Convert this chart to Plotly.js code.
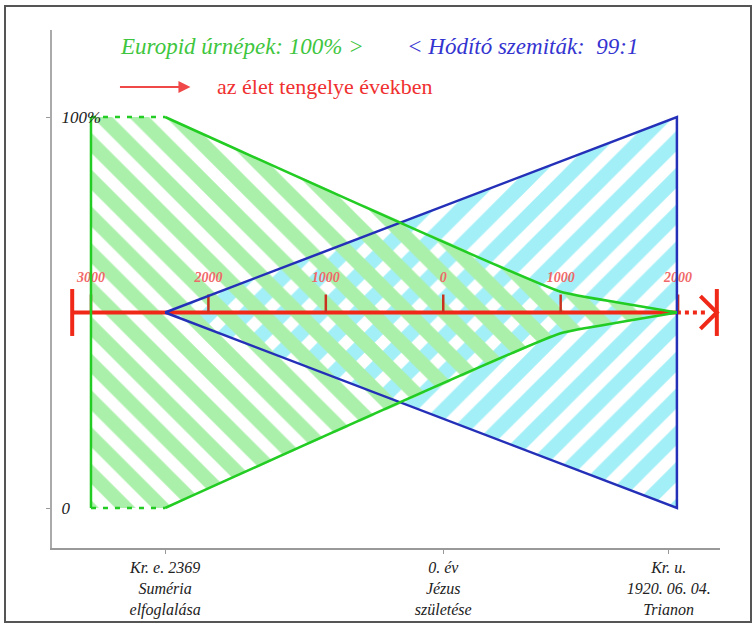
<!DOCTYPE html>
<html>
<head>
<meta charset="utf-8">
<script src="https://cdn.plot.ly/plotly-3.0.1.min.js"></script>
<style>
  html, body { margin: 0; padding: 0; background: #fff; }
  #wrap { position: relative; width: 756px; height: 624px; }
  #chart { width: 756px; height: 624px; }
  #frame { position: absolute; left: 4px; top: 5px; width: 744px; height: 614px;
           border: 2px solid #555; pointer-events: none; }
</style>
</head>
<body>
<div id="wrap"><div id="chart"></div><div id="frame"></div></div>
<script>
// ---- data (years on x, percent on y) ----
const bottomTickYears = [-2369, 0, 1920];
const bottomTickText = ['Kr. e. 2369<br>Suméria<br>elfoglalása', '0. év<br>Jézus<br>születése', 'Kr. u.<br>1920. 06. 04.<br>Trianon'];
const yTickVals = [0, 100];
const yTickText = ['0', '100%'];

// Europid (green) region
const greenStartYear = -3000;
const greenUpperX = [-2369, 1000, 1500, 1990];
const greenUpperY = [100, 55.3, 52.5, 50];
const greenLowerX = [-2369, 1000, 1500, 1990];
const greenLowerY = [0, 44.7, 47.5, 50];

// Semite (blue) region
const blueX = [-2369, 1990, 1990, -2369];
const blueY = [50, 100, 0, 50];

// time axis ("az élet tengelye")
const axisLevel = 50;
const timeAxisStart = -3160;
const timeAxisSolidEnd = 1990;
const timeAxisDottedEnd = 2230;
const timeAxisArrowTip = 2330;
const timeAxisArrowBack = 2190;
const redTickYears = [-3000, -2000, -1000, 0, 1000, 2000];
const redTickLabels = ['3000', '2000', '1000', '0', '1000', '2000'];

// ---- build traces ----
const serif = '"Liberation Serif", serif';
const green = '#22cc22', blue = '#2430b8', red = '#f02818';

const gX = [greenStartYear, greenStartYear].concat(greenUpperX, greenLowerX.slice().reverse(), [greenStartYear]);
const gY = [0, 100].concat(greenUpperY, greenLowerY.slice().reverse(), [0]);

const traces = [];
// blue fill
traces.push({x: blueX, y: blueY, mode: 'lines', fill: 'toself', line: {width: 0, color: 'rgba(0,0,0,0)'},
  fillcolor: 'rgba(0,0,0,0)',
  fillpattern: {shape: '/', fgcolor: '#a2eff7', bgcolor: 'rgba(255,255,255,0)', size: 26, solidity: 0.55, fgopacity: 1},
  hoverinfo: 'skip'});
// green fill
traces.push({x: gX, y: gY, mode: 'lines', fill: 'toself', line: {width: 0, color: 'rgba(0,0,0,0)'},
  fillcolor: 'rgba(0,0,0,0)',
  fillpattern: {shape: '\\', fgcolor: '#aaf0aa', bgcolor: 'rgba(255,255,255,0)', size: 26, solidity: 0.55, fgopacity: 1},
  hoverinfo: 'skip'});

// red time axis: solid, dotted, end bars, arrowhead
traces.push({x: [timeAxisStart, timeAxisSolidEnd], y: [axisLevel, axisLevel], mode: 'lines',
  line: {color: red, width: 4}, hoverinfo: 'skip'});
traces.push({x: [timeAxisSolidEnd, timeAxisDottedEnd], y: [axisLevel, axisLevel], mode: 'lines',
  line: {color: red, width: 4, dash: 'dot'}, hoverinfo: 'skip'});
traces.push({x: [timeAxisStart, timeAxisStart, null, timeAxisArrowTip, timeAxisArrowTip, null,
                 timeAxisArrowBack, timeAxisArrowTip, timeAxisArrowBack],
  y: [axisLevel - 6, axisLevel + 6, null, axisLevel - 6, axisLevel + 6, null,
      axisLevel + 4.2, axisLevel, axisLevel - 4.2],
  mode: 'lines', line: {color: red, width: 4}, hoverinfo: 'skip'});
// red ticks
const tX = [], tY = [];
redTickYears.forEach(v => { tX.push(v, v, null); tY.push(axisLevel, axisLevel + 4.6, null); });
traces.push({x: tX, y: tY, mode: 'lines', line: {color: '#c8321e', width: 2.5}, hoverinfo: 'skip'});
traces.push({x: redTickYears, y: redTickYears.map(() => axisLevel + 8.8), mode: 'text', text: redTickLabels,
  textfont: {family: serif, size: 14, color: '#f06868', style: 'italic', weight: 'bold'}, hoverinfo: 'skip'});

// blue outline
traces.push({x: blueX, y: blueY, mode: 'lines', line: {color: blue, width: 2.5}, hoverinfo: 'skip'});
// green outline (solid parts)
traces.push({x: [greenStartYear, greenStartYear, null].concat([greenUpperX[0]], greenUpperX.slice(1), [null], greenLowerX),
  y: [0, 100, null].concat([greenUpperY[0]], greenUpperY.slice(1), [null], greenLowerY),
  mode: 'lines', line: {color: green, width: 2.5, shape: 'spline', smoothing: 0.4}, hoverinfo: 'skip'});
// green outline (dashed top/bottom)
traces.push({x: [greenStartYear, greenUpperX[0], null, greenStartYear, greenLowerX[0]],
  y: [100, greenUpperY[0], null, 0, greenLowerY[0]],
  mode: 'lines', line: {color: green, width: 2.5, dash: '5px,7px'}, hoverinfo: 'skip'});

const layout = {
  width: 756, height: 624,
  margin: {l: 52, r: 36, t: 30, b: 76},
  paper_bgcolor: '#fff', plot_bgcolor: '#fff',
  showlegend: false,
  xaxis: {range: [-3332, 2357], showgrid: false, zeroline: false, showline: true, linecolor: '#999', linewidth: 2,
    tickvals: bottomTickYears, ticktext: bottomTickText, ticks: 'outside', ticklen: 4, tickcolor: '#999',
    tickfont: {family: serif, size: 16, color: '#222', style: 'italic'}},
  yaxis: {range: [-10.23, 122.25], showgrid: false, zeroline: false, showline: true, linecolor: '#aaa', linewidth: 2.5,
    tickvals: yTickVals, ticktext: yTickText, ticks: 'outside', ticklen: 4, tickcolor: '#999',
    ticklabelposition: 'inside', ticklabelstandoff: 10,
    tickfont: {family: serif, size: 17, color: '#222', style: 'italic'}},
  annotations: [
    {x: -2766, y: 118, xref: 'x', yref: 'y', xanchor: 'left', yanchor: 'middle', showarrow: false,
     text: 'Europid úrnépek: 100% >', font: {family: serif, size: 23, color: '#3ec63e', style: 'italic'}},
    {x: -323, y: 118, xref: 'x', yref: 'y', xanchor: 'left', yanchor: 'middle', showarrow: false,
     text: '< Hódító szemiták:  99:1', font: {family: serif, size: 23, color: '#3434d0', style: 'italic'}},
    {x: -1940, y: 107.9, xref: 'x', yref: 'y', xanchor: 'left', yanchor: 'middle', showarrow: false,
     text: 'az élet tengelye években', font: {family: serif, size: 22, color: '#f03030'}},
    {x: -2153, y: 107.7, ax: -2766, ay: 107.7, xref: 'x', yref: 'y', axref: 'x', ayref: 'y', text: '',
     showarrow: true, arrowhead: 2, arrowsize: 1.2, arrowwidth: 2, arrowcolor: '#f04848'}
  ]
};

Plotly.newPlot('chart', traces, layout, {displayModeBar: false, staticPlot: true});
</script>
</body>
</html>
